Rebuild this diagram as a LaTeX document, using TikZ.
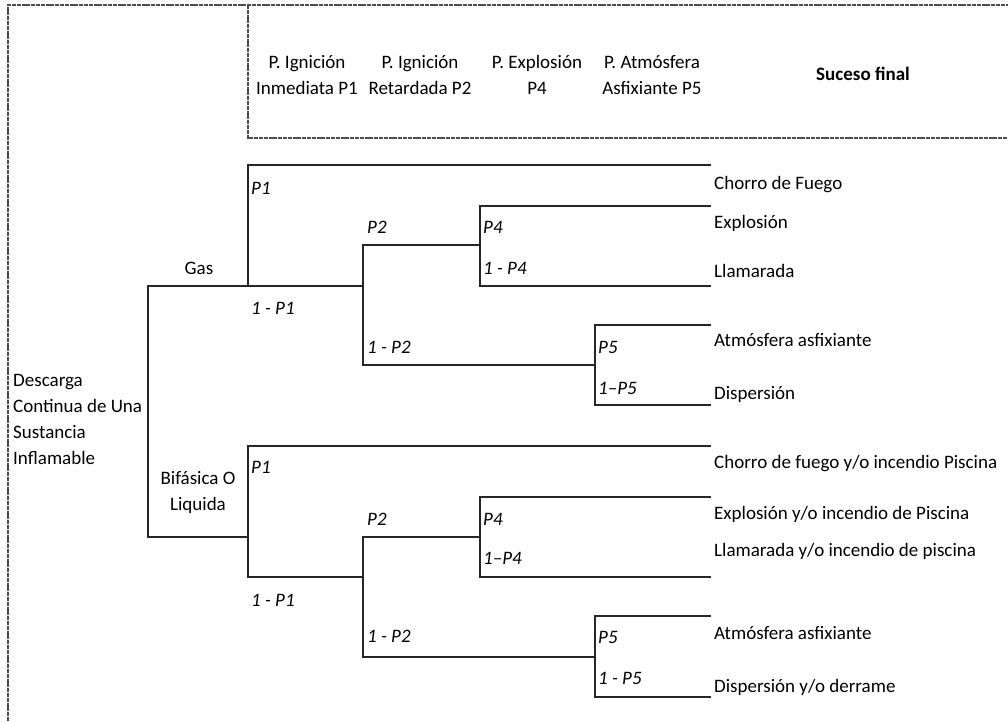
\documentclass[tikz,border=0pt]{standalone}
\usepackage{fontspec}
\setmainfont{Carlito}
\begin{document}
\begin{tikzpicture}[x=1pt,y=-1pt,
  tree/.style={line width=1.9pt, draw=black!85, line join=miter},
  framebox/.style={line width=1.8pt, draw=black!70, dash pattern=on 4pt off 0.8pt},
  txt/.style={font=\fontsize{19}{26}\selectfont, inner sep=0pt, text=black},
  lab/.style={txt, anchor=west, text height=12.5pt, text depth=0pt},
  prob/.style={lab, font=\fontsize{19}{26}\selectfont\itshape},
  hdr/.style={txt, align=center},
]
\useasboundingbox (0,0) rectangle (1008,721);
% frame and header box
\draw[framebox] (8,721) -- (8,5) -- (1008,5);
\draw[framebox] (248,5) -- (248,138) -- (1008,138);

% header
\node[hdr] (h1) at (307,75) {P. Ignición\\Inmediata P1};
\node[hdr] (h2) at (420,75) {P. Ignición\\Retardada P2};
\node[hdr] (h3) at (537,75) {P. Explosión\\P4};
\node[hdr] (h4) at (652,75) {P. Atmósfera\\Asfixiante P5};
\node[txt, font=\fontsize{19}{26}\selectfont\bfseries] (h5) at (863,74) {Suceso final};

% coordinates
\coordinate (rt) at (148,286); \coordinate (rb) at (148,537);
\coordinate (g) at (248,286); \coordinate (gt) at (248,165); \coordinate (e1) at (711,165);
\coordinate (q2) at (363,286); \coordinate (q2t) at (363,245); \coordinate (q2b) at (363,365);
\coordinate (q4) at (480,245); \coordinate (q4t) at (480,206); \coordinate (q4b) at (480,286);
\coordinate (e2) at (711,206); \coordinate (e3) at (711,286);
\coordinate (q5) at (595,365); \coordinate (q5t) at (595,325); \coordinate (q5b) at (595,405);
\coordinate (e4) at (711,325); \coordinate (e5) at (711,405);
\coordinate (b) at (248,537); \coordinate (bt) at (248,446); \coordinate (bb) at (248,577);
\coordinate (e6) at (711,446);
\coordinate (s2) at (363,577); \coordinate (s2t) at (363,537); \coordinate (s2b) at (363,657);
\coordinate (s4) at (480,537); \coordinate (s4t) at (480,497); \coordinate (s4b) at (480,577);
\coordinate (e7) at (711,497); \coordinate (e8) at (711,577);
\coordinate (s5) at (595,657); \coordinate (s5t) at (595,616); \coordinate (s5b) at (595,697);
\coordinate (e9) at (711,616); \coordinate (e10) at (711,697);

% tree
\draw[tree] (g) -- (rt) -- (rb) -- (b);
\draw[tree] (e1) -- (gt) -- (g) -- (q2);
\draw[tree] (q4) -- (q2t) -- (q2b) -- (q5);
\draw[tree] (e2) -- (q4t) -- (q4b) -- (e3);
\draw[tree] (e4) -- (q5t) -- (q5b) -- (e5);
\draw[tree] (e6) -- (bt) -- (bb) -- (s2);
\draw[tree] (s4) -- (s2t) -- (s2b) -- (s5);
\draw[tree] (e7) -- (s4t) -- (s4b) -- (e8);
\draw[tree] (e9) -- (s5t) -- (s5b) -- (e10);

% left texts
\node[txt, anchor=west, align=left] (src) at (13,419) {Descarga\\Continua de Una\\Sustancia\\Inflamable};
\node[txt] (gas) at (199,268) {Gas};
\node[hdr] (bif) at (198,492) {Bifásica O\\Liquida};

% probabilities - gas
\node[prob] (pa1) at (251,188) {P1};
\node[prob] (pa2) at (251,308) {1 - P1};
\node[prob] (pa3) at (367,227) {P2};
\node[prob] (pa4) at (367,347) {1 - P2};
\node[prob] (pa5) at (483,227) {P4};
\node[prob] (pa6) at (483,268) {1 - P4};
\node[prob] (pa7) at (598,347) {P5};
\node[prob] (pa8) at (598,388) {1–P5};
% probabilities - bifasica
\node[prob] (pb1) at (251,467) {P1};
\node[prob] (pb2) at (251,600) {1 - P1};
\node[prob] (pb3) at (367,519) {P2};
\node[prob] (pb4) at (367,636) {1 - P2};
\node[prob] (pb5) at (483,519) {P4};
\node[prob] (pb6) at (483,558) {1–P4};
\node[prob] (pb7) at (598,637) {P5};
\node[prob] (pb8) at (598,678) {1 - P5};

% outcomes
\node[lab] (o1) at (714,183) {Chorro de Fuego};
\node[lab] (o2) at (714,222) {Explosión};
\node[lab] (o3) at (714,271) {Llamarada};
\node[lab] (o4) at (714,340) {Atmósfera asfixiante};
\node[lab] (o5) at (714,393) {Dispersión};
\node[lab] (o6) at (714,462) {Chorro de fuego y/o incendio Piscina};
\node[lab] (o7) at (714,513) {Explosión y/o incendio de Piscina};
\node[lab] (o8) at (714,550) {Llamarada y/o incendio de piscina};
\node[lab] (o9) at (714,633) {Atmósfera asfixiante};
\node[lab] (o10) at (714,686) {Dispersión y/o derrame};
\end{tikzpicture}
\end{document}
